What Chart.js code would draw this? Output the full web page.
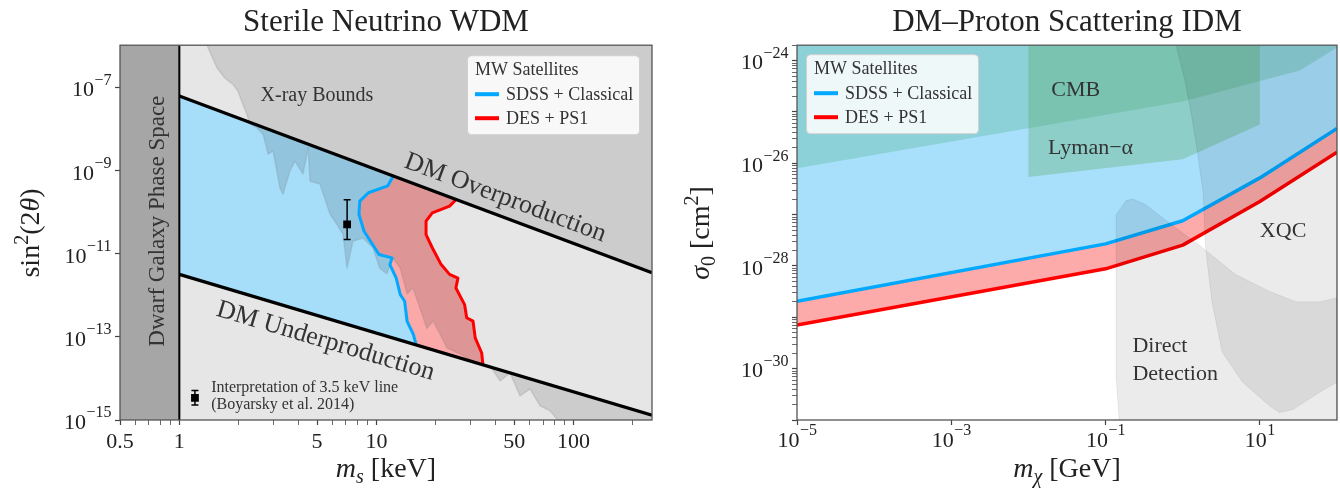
<!DOCTYPE html>
<html>
<head>
<meta charset="utf-8">
<script src="https://cdn.jsdelivr.net/npm/chart.js@4.4.0/dist/chart.umd.min.js"></script>
<style>
body { margin: 0; background: #fff; }
.wrap { position: relative; width: 1340px; height: 494px; }
canvas { position: absolute; top: 0; }
#left { left: 0; }
#right { left: 670px; }
</style>
</head>
<body>
<div class="wrap">
  <canvas id="left" width="670" height="494"></canvas>
  <canvas id="right" width="670" height="494"></canvas>
</div>
<script>
const SERIF = '"Liberation Serif", "Times New Roman", serif';

// ---- left panel: sterile neutrino WDM ----
const msRange = [0.5, 250];
const sinRange = [1e-15, 1.05e-6];
const msMajor = [0.5, 1, 5, 10, 50, 100];
const msLabels = ['0.5', '1', '5', '10', '50', '100'];
const msMinor = [0.6, 0.7, 0.8, 0.9, 2, 3, 4, 6, 7, 8, 9, 20, 30, 40, 60, 70, 80, 90, 200];
const sinMajor = [1e-15, 1e-13, 1e-11, 1e-9, 1e-7];
const sinExp = [-15, -13, -11, -9, -7];

const overMs = [1, 250];
const overSin = [6.3e-8, 3.5e-12];
const underMs = [1, 250];
const underSin = [3.2e-12, 1.3e-15];

const sdssMs = [12.15, 11.4, 9.1, 8.23, 8.15, 8.65, 9.56, 10.3, 12.0, 11.7, 12.6, 13.2, 13.9, 14.3, 15.4, 15.9];
const sdssSin = [7.4e-10, 4.3e-10, 2.95e-10, 1.86e-10, 8.9e-11, 3.5e-11, 1.68e-11, 9.6e-12, 8.0e-12, 5.5e-12, 2.6e-12, 1.05e-12, 7.2e-13, 2.4e-13, 1.14e-13, 6.4e-14];
const desMs = [25.3, 23.5, 19.2, 17.85, 17.85, 19.2, 21.3, 23.5, 25.9, 25.3, 28.0, 28.7, 30.9, 31.7, 34.2, 34.7];
const desSin = [2.0e-10, 1.41e-10, 9.7e-11, 6.1e-11, 2.9e-11, 1.4e-11, 5.5e-12, 3.2e-12, 2.6e-12, 1.5e-12, 6.0e-13, 2.9e-13, 2.4e-13, 9.5e-14, 4.1e-14, 2.1e-14];

const xrayMs = [1.38, 1.55, 1.70, 1.87, 1.98, 2.10, 2.20, 2.28, 2.47, 2.66, 2.82, 2.99, 3.24, 3.36, 3.64, 3.86, 4.24, 4.50, 4.60, 5.17, 5.81, 6.28, 6.76, 7.09, 7.60, 8.55, 9.60, 10.4, 11.3, 12.1, 13.2, 14.3, 15.3, 16.6, 18.0, 19.4, 21.0, 22.8, 26.5, 30.9, 37.7, 42.4, 47.6, 53.5, 60.1, 67.6, 75.9, 83.3];
const xraySin = [1.05e-6, 3.0e-7, 1.7e-7, 1.2e-7, 8.3e-8, 4.0e-8, 2.3e-8, 1.33e-8, 1.08e-8, 7.6e-9, 2.5e-9, 3.0e-9, 3.8e-10, 2.7e-10, 9.8e-10, 1.7e-9, 8.3e-10, 3.5e-9, 5.6e-10, 4.8e-10, 9.1e-11, 5.2e-11, 3.0e-11, 4.5e-12, 2.0e-11, 2.4e-11, 1.38e-11, 4.5e-12, 3.3e-12, 7.9e-12, 4.5e-12, 1.08e-12, 1.5e-12, 5.0e-13, 1.6e-13, 2.4e-13, 1.17e-13, 5.4e-14, 3.9e-14, 2.6e-14, 2.0e-14, 8.7e-15, 1.35e-14, 3.8e-15, 5.6e-15, 2.2e-15, 1.66e-15, 1.0e-15];

// 3.5 keV line point and its legend key
const lineMs = [7.1];
const lineSin = [5.1e-11];
const lineLo = [2.2e-11];
const lineHi = [2.0e-10];
const keyMs = [1.2];
const keySin = [3.4e-15];
const keyLo = [2.3e-15];
const keyHi = [5.1e-15];

// ---- right panel: DM-proton scattering ----
const mxRange = [1e-5, 100];
const sigRange = [1e-31, 2e-24];
const mxMajor = [1e-5, 1e-3, 1e-1, 10];
const mxExp = [-5, -3, -1, 1];
const sigMajor = [1e-31, 1e-30, 1e-29, 1e-28, 1e-27, 1e-26, 1e-25, 1e-24];
const sigExp = [null, -30, null, -28, null, -26, null, -24];

const sdssMx = [1e-5, 0.1, 1, 10, 100];
const sdssSig = [2.05e-29, 2.7e-28, 7.6e-28, 5.2e-27, 4.8e-26];
const desMx = [1e-5, 0.1, 1, 10, 100];
const desSig = [7.1e-30, 8.8e-29, 2.55e-28, 1.8e-27, 1.65e-26];
const cmbMx = [1e-5, 1, 33, 100];
const cmbSig = [8e-27, 1.6e-25, 6.4e-25, 1.8e-24];
const lyaMx = [0.01, 0.01, 1, 10, 10];
const lyaSig = [2e-24, 5.4e-27, 1.2e-26, 5.7e-26, 2e-24];
const ddMx = [0.15, 0.137, 0.137, 0.186, 0.227, 0.323, 0.8, 1.78, 4.86, 13.3, 29.7, 60, 100];
const ddSig = [1e-31, 7.4e-31, 1.0e-27, 1.9e-27, 2.0e-27, 1.6e-27, 5.6e-28, 2.3e-28, 6.8e-29, 3.2e-29, 2.0e-29, 2.0e-29, 2.4e-29];
const xqcMx = [0.82, 1.06, 1.28, 1.55, 1.85, 1.97, 2.07, 2.4, 3.25, 5.94, 13.3, 18, 26.8, 60, 100];
const xqcSig = [2e-24, 4.4e-25, 1e-25, 1.7e-26, 2.5e-27, 2.6e-28, 1.25e-28, 2.0e-29, 2.1e-30, 5.5e-31, 1.9e-31, 1.4e-31, 1.6e-31, 3.5e-31, 5.5e-31];

const BLUE = '#00a8ff';
const RED = '#ff0000';

function pts(xs, ys) {
  return xs.map((x, i) => ({x: x, y: ys[i]}));
}

function area(data, color, border) {
  return {
    data, showLine: true, fill: 'shape', backgroundColor: color,
    borderColor: border || 'transparent', borderWidth: border ? 1 : 0, pointRadius: 0
  };
}

function curve(data, color, width) {
  return {
    data, showLine: true, fill: false, borderColor: color, borderWidth: width,
    borderJoinStyle: 'round', borderCapStyle: 'butt', pointRadius: 0
  };
}

function errbar(xs, lo, hi) {
  return {
    data: pts([xs[0], xs[0]], [lo[0], hi[0]]), showLine: true, borderColor: '#000', borderWidth: 1.5,
    pointStyle: 'line', pointRadius: 3.5, pointBorderColor: '#000', pointBorderWidth: 1.5
  };
}

function marker(xs, ys) {
  return {data: pts(xs, ys), pointStyle: 'rect', pointRadius: 5.5, pointBackgroundColor: '#000', pointBorderWidth: 0};
}

// layers listed bottom to top; chart.js draws lower 'order' on top
function stack(layers) {
  layers.forEach((d, i) => { d.order = layers.length - i; });
  return layers;
}

function isMajor(majors, v) {
  return majors.findIndex(m => Math.abs(Math.log10(m / v)) < 1e-6);
}

function axis(range, majors, labels, minors, fit) {
  return {
    type: 'logarithmic', min: range[0], max: range[1],
    afterFit: fit,
    afterBuildTicks: s => {
      s.ticks = majors.concat(minors).sort((a, b) => a - b).map(v => ({value: v}));
    },
    ticks: {
      autoSkip: false, maxRotation: 0, minRotation: 0, padding: 4,
      color: '#222', font: {family: SERIF, size: 22},
      callback: v => {
        const i = isMajor(majors, v);
        return i < 0 || !labels ? '' : labels[i];
      }
    },
    grid: {
      drawOnChartArea: false, tickLength: 5, color: '#444',
      tickWidth: c => (c.tick && isMajor(majors, c.tick.value) >= 0 ? 1.2 : 0.8)
    },
    border: {display: false}
  };
}

// "10" with a raised exponent, placed at the scale's own tick positions
function powerLabels(chart, id, majors, exps, vertical) {
  const s = chart.scales[id], ctx = chart.ctx;
  ctx.save();
  ctx.fillStyle = '#222';
  ctx.textBaseline = 'middle';
  ctx.textAlign = 'left';
  majors.forEach((v, i) => {
    if (exps[i] === null) return;
    const sup = String(exps[i]).replace('-', '−');
    ctx.font = '22px ' + SERIF;
    const wb = ctx.measureText('10').width;
    ctx.font = '16px ' + SERIF;
    const ws = ctx.measureText(sup).width;
    let x0, yb;
    if (vertical) {
      x0 = s.right - 9 - wb - ws;
      yb = s.getPixelForValue(v) + 3;
    } else {
      x0 = s.getPixelForValue(v) - (wb + ws) / 2;
      yb = s.top + 21;
    }
    ctx.font = '22px ' + SERIF;
    ctx.fillText('10', x0, yb);
    ctx.font = '16px ' + SERIF;
    ctx.fillText(sup, x0 + wb + 0.5, yb - 10);
  });
  ctx.restore();
}

function mathText(ctx, parts, cx, cy, size, rotate) {
  ctx.save();
  ctx.translate(cx, cy);
  if (rotate) ctx.rotate(-Math.PI / 2);
  ctx.fillStyle = '#222';
  ctx.textBaseline = 'alphabetic';
  ctx.textAlign = 'left';
  const fonts = parts.map(([t, k]) => {
    const small = k.includes('sub') || k.includes('sup');
    return (k.startsWith('i') ? 'italic ' : '') + Math.round(small ? size * 0.7 : size) + 'px ' + SERIF;
  });
  let w = 0;
  const widths = parts.map(([t], i) => { ctx.font = fonts[i]; const m = ctx.measureText(t).width; w += m; return m; });
  let x = -w / 2;
  parts.forEach(([t, k], i) => {
    ctx.font = fonts[i];
    let dy = 0;
    if (k.includes('sub')) dy = size * 0.22;
    if (k.includes('sup')) dy = -size * 0.4;
    ctx.fillText(t, x, size * 0.33 + dy);
    x += widths[i];
  });
  ctx.restore();
}

function drawLegend(ctx, left, top) {
  const w = 172, h = 79;
  ctx.save();
  ctx.fillStyle = 'rgba(255,255,255,0.85)';
  ctx.strokeStyle = '#d0d0d0';
  ctx.lineWidth = 1;
  ctx.beginPath();
  ctx.roundRect(left + 0.5, top + 0.5, w, h, 4);
  ctx.fill();
  ctx.stroke();
  ctx.fillStyle = '#333';
  ctx.textBaseline = 'middle';
  ctx.textAlign = 'left';
  ctx.font = '18px ' + SERIF;
  ctx.fillText('MW Satellites', left + 8, top + 15);
  [[BLUE, 'SDSS + Classical', 39], [RED, 'DES + PS1', 63]].forEach(([c, t, dy]) => {
    ctx.strokeStyle = c;
    ctx.lineWidth = 4;
    ctx.beginPath();
    ctx.moveTo(left + 8, top + dy);
    ctx.lineTo(left + 32, top + dy);
    ctx.stroke();
    ctx.fillText(t, left + 39, top + dy + 1);
  });
  ctx.restore();
}

function frame(chart) {
  const a = chart.chartArea, ctx = chart.ctx;
  ctx.save();
  ctx.strokeStyle = '#555';
  ctx.lineWidth = 1.3;
  ctx.strokeRect(a.left, a.top, a.right - a.left, a.bottom - a.top);
  ctx.restore();
}

Chart.defaults.font.family = SERIF;

const leftPlugin = {
  id: 'leftDecor',
  beforeDatasetsDraw(chart) {
    const a = chart.chartArea, ctx = chart.ctx;
    ctx.save();
    ctx.fillStyle = '#e6e6e6';
    ctx.fillRect(a.left, a.top, a.right - a.left, a.bottom - a.top);
    ctx.restore();
  },
  // the x-ray bound darkens what lies below it (multiply blend)
  afterDatasetDraw(chart, args) {
    const bi = chart.data.datasets.findIndex(d => d.blend);
    if (args.index === bi - 1) chart.ctx.globalCompositeOperation = 'multiply';
    if (args.index === bi) chart.ctx.globalCompositeOperation = 'source-over';
  },
  afterDatasetsDraw(chart) {
    const {ctx, chartArea: a} = chart;
    const x = chart.scales.x, y = chart.scales.y;
    const px = v => x.getPixelForValue(v), py = v => y.getPixelForValue(v);
    ctx.save();
    ctx.fillStyle = '#333';
    ctx.textAlign = 'center';
    ctx.textBaseline = 'middle';
    ctx.font = '20px ' + SERIF;
    ctx.fillText('X-ray Bounds', px(4.99), py(6.5e-8));

    ctx.save();
    ctx.translate(px(0.78), py(6.1e-11));
    ctx.rotate(-Math.PI / 2);
    ctx.font = '23px ' + SERIF;
    ctx.fillText('Dwarf Galaxy Phase Space', 0, 0);
    ctx.restore();

    const angO = Math.atan2(py(overSin[1]) - py(overSin[0]), px(overMs[1]) - px(overMs[0]));
    ctx.save();
    ctx.translate(px(45), py(2.2e-10));
    ctx.rotate(angO);
    ctx.font = '26px ' + SERIF;
    ctx.fillText('DM Overproduction', 0, 0);
    ctx.restore();

    const angU = Math.atan2(py(underSin[1]) - py(underSin[0]), px(underMs[1]) - px(underMs[0]));
    ctx.save();
    ctx.translate(px(5.52), py(7.9e-14));
    ctx.rotate(angU);
    ctx.font = '26px ' + SERIF;
    ctx.fillText('DM Underproduction', 0, 0);
    ctx.restore();

    ctx.textAlign = 'left';
    ctx.font = '16px ' + SERIF;
    ctx.fillText('Interpretation of 3.5 keV line', px(1.45), py(5.9e-15));
    ctx.fillText('(Boyarsky et al. 2014)', px(1.45), py(2.3e-15));
    ctx.restore();

    drawLegend(ctx, a.right - 185, a.top + 10);
  },
  afterDraw(chart) {
    frame(chart);
    const a = chart.chartArea;
    powerLabels(chart, 'y', sinMajor, sinExp, true);
    mathText(chart.ctx, [['m', 'i'], ['s', 'isub'], [' [keV]', '']], (a.left + a.right) / 2, 468, 28, false);
    mathText(chart.ctx, [['sin', ''], ['2', 'sup'], ['(2', ''], ['θ', 'i'], [')', '']], 30, 233, 28, true);
  }
};

const rightPlugin = {
  id: 'rightDecor',
  afterDatasetsDraw(chart) {
    const {ctx, chartArea: a} = chart;
    const x = chart.scales.x, y = chart.scales.y;
    const px = v => x.getPixelForValue(v), py = v => y.getPixelForValue(v);
    ctx.save();
    ctx.fillStyle = '#333';
    ctx.textBaseline = 'middle';
    ctx.textAlign = 'center';
    ctx.font = '22px ' + SERIF;
    ctx.fillText('CMB', px(0.041), py(2.6e-25));
    ctx.fillText('Lyman−α', px(0.064), py(1.95e-26));
    ctx.fillText('XQC', px(20), py(4.8e-28));
    ctx.textAlign = 'left';
    ctx.fillText('Direct', px(0.223), py(2.7e-30));
    ctx.fillText('Detection', px(0.223), py(7.9e-31));
    ctx.restore();
    drawLegend(ctx, a.left + 9, a.top + 9);
  },
  afterDraw(chart) {
    frame(chart);
    const a = chart.chartArea;
    powerLabels(chart, 'x', mxMajor, mxExp, false);
    powerLabels(chart, 'y', sigMajor, sigExp, true);
    mathText(chart.ctx, [['m', 'i'], ['χ', 'isub'], [' [GeV]', '']], (a.left + a.right) / 2, 468, 28, false);
    mathText(chart.ctx, [['σ', 'i'], ['0', 'sub'], [' [cm', ''], ['2', 'sup'], [']', '']], 30, 233, 28, true);
  }
};

function baseOptions(title, xAxis, yAxis, padRight) {
  return {
    responsive: false,
    animation: false,
    events: [],
    layout: {padding: {left: 0, right: padRight, top: 0, bottom: 0}},
    plugins: {
      legend: {display: false},
      tooltip: {enabled: false},
      title: {
        display: true, text: title, fullSize: false, color: '#222',
        font: {family: SERIF, size: 31, weight: 'normal'}, padding: {top: 4, bottom: 4}
      }
    },
    scales: {x: xAxis, y: yAxis}
  };
}

function buildLeft() {
  const sdss = pts(sdssMs, sdssSin);
  const des = pts(desMs, desSin);
  const xray = area(pts(xrayMs, xraySin).concat([{x: msRange[1], y: sinRange[0]}, {x: msRange[1], y: sinRange[1]}]), 'rgb(226,227,228)');
  xray.blend = true;
  const datasets = stack([
    area(pts([msRange[0], overMs[0], overMs[0], msRange[0]], [sinRange[0], sinRange[0], sinRange[1], sinRange[1]]), '#a6a6a6'),
    area([{x: overMs[0], y: overSin[0]}, {x: underMs[0], y: underSin[0]}].concat(sdss.slice().reverse()), '#a6ddf9'),
    area(sdss.concat(des.slice().reverse()), '#faa8a8'),
    xray,
    area(des.concat([{x: underMs[1], y: underSin[1]}, {x: overMs[1], y: overSin[1]}]), '#e6e6e6'),
    curve(pts(xrayMs, xraySin), 'rgba(120,120,120,0.2)', 1.5),
    curve(sdss, BLUE, 3),
    curve(des, RED, 3),
    curve(pts(overMs, overSin), '#000', 3.2),
    curve(pts(underMs, underSin), '#000', 3.2),
    curve(pts([overMs[0], overMs[0]], sinRange), '#000', 2),
    errbar(lineMs, lineLo, lineHi),
    marker(lineMs, lineSin),
    errbar(keyMs, keyLo, keyHi),
    marker(keyMs, keySin)
  ]);
  new Chart(document.getElementById('left'), {
    type: 'scatter',
    data: {datasets},
    options: baseOptions('Sterile Neutrino WDM',
      axis(msRange, msMajor, msLabels, msMinor, s => { s.height = 74; }),
      axis(sinRange, sinMajor, null, [], s => { s.width = 120; }), 18),
    plugins: [leftPlugin]
  });
}

function buildRight() {
  const sdss = pts(sdssMx, sdssSig);
  const des = pts(desMx, desSig);
  const sigMinor = [];
  sigMajor.forEach(d => { for (let k = 2; k <= 9; k++) if (d * k <= sigRange[1] * 1.0001) sigMinor.push(d * k); });
  const datasets = stack([
    area(sdss.concat([{x: mxRange[1], y: sigRange[1]}, {x: mxRange[0], y: sigRange[1]}]), '#a8e0fc'),
    area(sdss.concat(des.slice().reverse()), '#fcaaaa'),
    curve(sdss, BLUE, 3.5),
    curve(des, RED, 3.5),
    area(pts(cmbMx, cmbSig).concat([{x: mxRange[1], y: sigRange[1]}, {x: mxRange[0], y: sigRange[1]}]), 'rgba(75,171,134,0.3)'),
    area(pts(lyaMx, lyaSig), 'rgba(78,167,84,0.3)'),
    area(pts(ddMx, ddSig).concat([{x: mxRange[1], y: sigRange[0]}]), 'rgba(0,0,0,0.078)', 'rgba(0,0,0,0.08)'),
    area(pts(xqcMx, xqcSig).concat([{x: mxRange[1], y: sigRange[1]}]), 'rgba(0,0,0,0.078)', 'rgba(0,0,0,0.08)')
  ]);
  new Chart(document.getElementById('right'), {
    type: 'scatter',
    data: {datasets},
    options: baseOptions('DM–Proton Scattering IDM',
      axis(mxRange, mxMajor, null, [], s => { s.height = 74; }),
      axis(sigRange, sigMajor, null, sigMinor, s => { s.width = 127; }), 3),
    plugins: [rightPlugin]
  });
}

buildLeft();
buildRight();
</script>
</body>
</html>
